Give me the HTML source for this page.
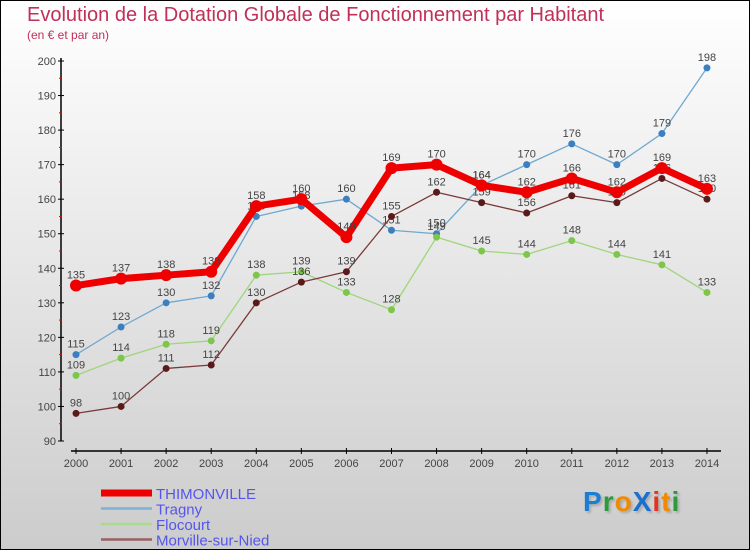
<!DOCTYPE html>
<html><head><meta charset="utf-8"><style>
body{margin:0;}
#wrap{position:relative;width:748px;height:548px;border:1px solid #000;background:linear-gradient(#fff,#ccc);font-family:"Liberation Sans",sans-serif;overflow:hidden;}
.t{position:absolute;color:#c0305a;}
</style></head><body>
<div id="wrap">
<div class="t" style="left:26px;top:3px;font-size:20px;">Evolution de la Dotation Globale de Fonctionnement par Habitant</div>
<div class="t" style="left:26px;top:27px;font-size:12px;">(en € et par an)</div>
<svg id="chart" width="748" height="548" style="position:absolute;left:0;top:0"></svg>
<div style="position:absolute;left:582px;top:485px;font-size:28px;font-weight:bold;letter-spacing:1px;text-shadow:2px 2px 2px #aaa;"><span style="color:#1a7fd4">P</span><span style="color:#2a9a3a">r</span><span style="color:#f08a00">o</span><span style="color:#1a6fd0">X</span><span style="color:#e83020">i</span><span style="color:#f08a00">t</span><span style="color:#2a9a3a">i</span></div>
</div>
<script>
const years=[2000,2001,2002,2003,2004,2005,2006,2007,2008,2009,2010,2011,2012,2013,2014];
const thimonville=[135,137,138,139,158,160,149,169,170,164,162,166,162,169,163];
const tragny=[115,123,130,132,155,158,160,151,150,164,170,176,170,179,198];
const flocourt=[109,114,118,119,138,139,133,128,149,145,144,148,144,141,133];
const morville=[98,100,111,112,130,136,139,155,162,159,156,161,159,166,160];
const yTicks=[90,100,110,120,130,140,150,160,170,180,190,200];
const seriesNames=["THIMONVILLE","Tragny","Flocourt","Morville-sur-Nied"];

const svg=document.getElementById('chart');
const NS='http://www.w3.org/2000/svg';
const x=i=>75+i*45.07;
const y=v=>440-(v-90)*380/110;
function mk(tag,attrs,parent){const e=document.createElementNS(NS,tag);for(const k in attrs)e.setAttribute(k,attrs[k]);(parent||svg).appendChild(e);return e;}

let ax=mk('line',{x1:60,y1:57,x2:60,y2:440,stroke:'#000','stroke-width':1.5});


yTicks.forEach(v=>{
  mk('line',{x1:57,x2:63,y1:y(v),y2:y(v),stroke:'#000'});
  const t=mk('text',{x:55,y:y(v)+4,'text-anchor':'end','font-size':11,fill:'#444'});
  t.textContent=v;
  
  
  if(v<200) mk('line',{x1:58,x2:61,y1:y(v+5),y2:y(v+5),stroke:'#e00'});
});
let xa=mk('line',{x1:70,y1:450,x2:720,y2:450,stroke:'#000','stroke-width':1.5});


years.forEach((yr,i)=>{
  mk('line',{x1:x(i),x2:x(i),y1:447,y2:453,stroke:'#000'});
  const t=mk('text',{x:x(i),y:466,'text-anchor':'middle','font-size':11,fill:'#444'});
  t.textContent=yr;
  
  
});

const series=[
 {d:tragny,c:'#6fa8d0',m:'#3a7fc0',w:1.3,r:3.5,n:'tragny'},
 {d:flocourt,c:'#9fd67a',m:'#7cc64a',w:1.3,r:3.5,n:'flocourt'},
 {d:morville,c:'#7a3a3a',m:'#5a1a1a',w:1.3,r:3.5,n:'morville'},
 {d:thimonville,c:'#ee0000',m:'#ee0000',w:7,r:6,n:'thimonville'}
];
series.forEach(s=>{
  const p=mk('polyline',{points:s.d.map((v,i)=>x(i)+','+y(v)).join(' '),fill:'none',stroke:s.c,'stroke-width':s.w,'stroke-linejoin':'round'});
  
  
  s.d.forEach((v,i)=>{
    const c=mk('circle',{cx:x(i),cy:y(v),r:s.r,fill:s.m});
    
    
    const t=mk('text',{x:x(i),y:y(v)-7,'text-anchor':'middle','font-size':11,fill:'#444'});
    t.textContent=v;
    
    
  });
});

const legCols=['#ee0000','#7fb0d8','#a8dc8a','#9a6060'];
const legW=[7,2.5,2.5,2.5];
seriesNames.forEach((n,i)=>{
  const ly=492+i*15.5;
  mk('line',{x1:100,x2:151,y1:ly,y2:ly,stroke:legCols[i],'stroke-width':legW[i]});
  const t=mk('text',{x:155,y:ly+6,'font-size':15,fill:'#5555ee'});
  t.textContent=n;
  
  
});
</script>
</body></html>
